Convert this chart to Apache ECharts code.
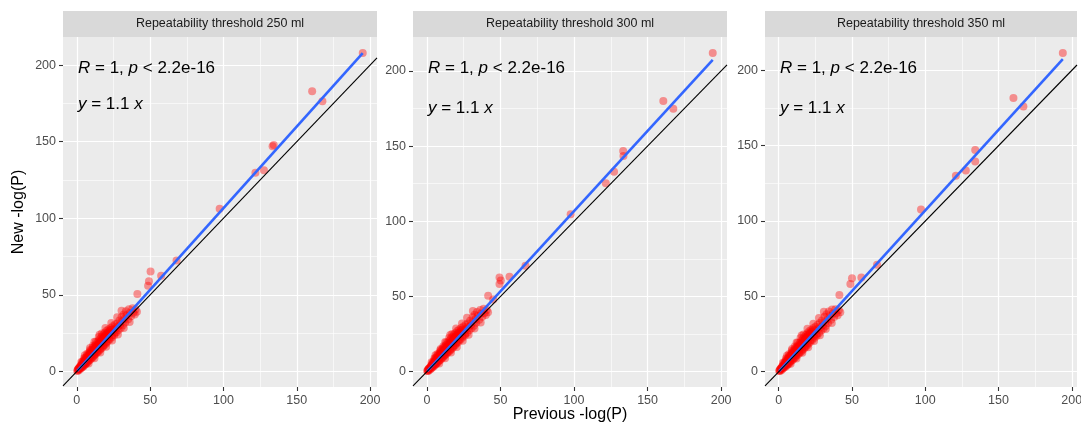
<!DOCTYPE html>
<html><head><meta charset="utf-8">
<script src="https://cdn.jsdelivr.net/npm/echarts@6/dist/echarts.min.js"></script>
<style>html,body{margin:0;padding:0;background:#fff}#c{width:1081px;height:427px}</style>
</head><body><div id="c"></div>
<script>
// ---------------- data ----------------
const panelTitles = ['Repeatability threshold 250 ml', 'Repeatability threshold 300 ml', 'Repeatability threshold 350 ml'];
const xTicks = [0, 50, 100, 150, 200];
const yTicks = [0, 50, 100, 150, 200];
const xTitle = 'Previous -log(P)';
const yTitle = 'New -log(P)';
const corText = '{i|R} = 1, {i|p} < 2.2e-16';
const eqText = '{i|y} = 1.1 {i|x}';
const fitSlopes = [1.066, 1.067, 1.070];

const points250 = [
[0.3,0.2],[0.5,0.8],[1,1.5],[1.2,0.6],[1.8,2.5],[2,1.4],[2.3,3.6],[2.7,2.1],[3,4.2],[3.2,2.4],[3.5,5.5],[3.8,3.1],[4,6.4],[4.2,4.5],[4.5,3.2],[4.8,7.2],[5,5.3],[5.2,4.1],[5.5,8.3],[5.8,6.2],[6,4.6],[6.2,9.1],[6.5,7.4],[6.8,5.5],[7,10.2],[7.2,8.1],[7.5,6.3],[7.8,11],[8,9],[8.3,7.1],[8.5,12.3],[8.8,9.8],[9,7.6],[9.3,13.1],[9.6,10.6],[10,8.4],[10.2,14.2],[10.5,11.5],[10.8,9.3],[11,15.5],[11.3,12.4],[11.6,10.2],[12,16.3],[12.3,13.5],[12.6,11],[13,17.4],[13.3,14.6],[13.6,12],[14,18.8],[14.3,15.7],[14.6,12.8],[15,20.1],[15.3,16.6],[15.6,13.9],[16,21.4],[16.4,17.9],[16.8,15],[17,22.6],[17.4,19],[17.8,16.1],[18,24],[18.4,20.3],[18.8,17.2],[19,25.2],[19.5,21.5],[20,18.3],[20.3,26.5],[20.7,22.8],[21,19.6],[21.5,27.3],[22,24],[22.4,20.8],[23,28.4],[23.4,25.2],[24,22.3],[24.5,29.5],[25,26.8],[25.5,23.6],[26,30.6],[26.5,28],[27,25.5],[27.5,31.3],[28,29.4],[28.5,27],[29,33.2],[29.5,30.5],[30,28.4],[30.5,35.5],[31,32.6],[31.5,30.1],[32,37.2],[32.5,34.4],[33,32],[33.5,39.3],[34,36.5],[35,34],[35.5,40.6],[36,38.2],[37,36],[38,41.2],[38.5,38.3],[39.5,37.2],[40,40.4],[41,39],
[0.8,1.2],[1.5,2],[2.5,2.8],[3.3,3.8],[4.3,5],[5.3,6.4],[6.3,7],[7.3,8.5],[8.3,10.3],[9.2,11.4],[10.3,12.6],[11.4,13.8],[12.5,15],[13.5,16.1],[14.5,17.3],[15.5,18.5],[16.5,19.7],[17.5,20.9],[18.5,22.1],[19.5,23.3],[21,24.9],[22.5,26.2],[24,27.4],
[5.5,10.5],[9,15.2],[12,19.3],[15.5,24],[19.5,28.4],[23.5,31.6],[27.5,35.4],[30.5,39.6],[8,5.2],[12,8.6],[16,12.4],[20,16.1],[24,20.2],[28,24.1],[32,28.3],[36,32.2],
[1.3,1.9],[2.2,2.6],[2.9,3.5],[3.7,4.4],[4.6,5.7],[5.6,6.9],[6.6,8.2],[7.6,9.3],[8.6,10.9],[9.5,12],[10.6,13.2],[11.7,14.4],[12.8,15.6],[13.8,16.8],[14.8,18],[15.8,19.2],[16.9,20.3],[17.9,21.6],[18.9,23],[20,24.1],[21.3,25.6],[22.8,27],[4,3.6],[5.9,5.1],[7.9,7.2],[9.9,9.1],[11.9,11.1],[13.9,13],[15.9,14.8],[17.9,16.9],[19.9,19],[21.9,21.2],[23.9,23.4],[25.9,25],[3,6.1],[5,8.8],[7,11.6],[9,14],[11,16.8],[13,19.3],[15,22.4],[17,24.8],
[41.3,50.5],[48.6,56],[49.2,58.8],[50.3,65.2],[57.5,62.5],[68,72.5],[97.4,106.2],[121.8,129.8],[127.6,131.4],[133.5,147],[134.3,147.8],[160.5,183],[167.5,176.5],[195,208]
];

const points300 = [
[0.2,0.5],[0.4,0.3],[0.7,1.1],[1.1,0.5],[1.6,2.2],[2.1,1.3],[2.4,3.3],[2.8,2],[3.1,4.4],[3.4,2.6],[3.6,5.2],[3.9,3.3],[4.1,6.1],[4.4,4.7],[4.6,3.4],[4.9,7.5],[5.1,5.6],[5.4,4.3],[5.6,8.6],[5.9,6.5],[6.1,4.9],[6.4,9.4],[6.6,7.2],[6.9,5.7],[7.1,10.5],[7.4,8.3],[7.7,6.5],[7.9,11.3],[8.2,9.3],[8.4,7.3],[8.7,12.6],[8.9,10.1],[9.2,7.9],[9.5,13.5],[9.8,10.9],[10.1,8.7],[10.4,14.6],[10.7,11.8],[11,9.6],[11.2,15.8],[11.5,12.7],[11.8,10.5],[12.2,16.7],[12.5,13.8],[12.8,11.3],[13.2,17.9],[13.5,14.9],[13.8,12.3],[14.2,19.1],[14.5,16],[14.8,13.1],[15.2,20.5],[15.5,17],[15.9,14.2],[16.2,21.8],[16.6,18.3],[17,15.3],[17.2,23],[17.6,19.4],[18,16.4],[18.3,24.4],[18.7,20.6],[19.1,17.5],[19.3,25.6],[19.8,21.9],[20.2,18.7],[20.6,26.9],[21,23.2],[21.4,19.9],[21.8,27.8],[22.3,24.4],[22.7,21.2],[23.3,28.9],[23.7,25.6],[24.3,22.6],[24.8,30],[25.3,27.2],[25.8,24],[26.3,31.2],[26.8,28.4],[27.3,25.8],[27.8,32],[28.3,29.8],[28.8,27.4],[29.3,33.8],[29.8,31],[30.3,28.8],[31,36.2],[31.4,33.1],[31.9,30.5],[32.4,37.8],[33,34.9],[33.5,32.4],[34,39.6],[34.5,37],[35.5,34.5],[36.2,41],[36.8,38.7],[37.6,36.4],[38.5,41.8],[39,38.8],[40,37.6],[40.6,41],[41.5,39.5],
[0.9,1.4],[1.4,1.8],[2.6,3],[3.5,4],[4.5,5.3],[5.5,6.6],[6.5,7.8],[7.5,8.9],[8.5,10.6],[9.4,11.7],[10.5,12.9],[11.6,14.1],[12.7,15.3],[13.7,16.4],[14.7,17.6],[15.7,18.8],[16.8,20],[17.8,21.2],[18.8,22.5],[19.8,23.7],[21.2,25.2],[22.8,26.5],[24.3,27.8],
[5.8,10.8],[9.3,15],[12.4,19.6],[15.8,24.3],[19.8,28.6],[23.8,31.9],[27.2,35.8],[31.2,40.2],[8.3,5.4],[12.3,8.8],[16.3,12.7],[20.3,16.4],[24.3,20.5],[28.3,24.4],[32.3,28.6],[36.5,32.6],
[1.2,1.8],[2.3,2.7],[3,3.6],[3.8,4.5],[4.7,5.8],[5.7,7],[6.7,8.3],[7.7,9.4],[8.7,11],[9.6,12.1],[10.7,13.3],[11.8,14.5],[12.9,15.7],[13.9,16.9],[14.9,18.1],[15.9,19.3],[17,20.4],[18,21.7],[19,23.1],[20.1,24.2],[21.4,25.7],[22.9,27.1],[4.1,3.7],[6,5.2],[8,7.3],[10,9.2],[12,11.2],[14,13.1],[16,14.9],[18,17],[20,19.1],[22,21.3],[24,23.5],[26,25.1],[3.1,6.2],[5.1,8.9],[7.1,11.7],[9.1,14.1],[11.1,16.9],[13.1,19.4],[15.1,22.5],[17.1,24.9],
[41.6,50.5],[45,48],[49.3,58.2],[50.2,60.5],[49.3,62.6],[56.1,63],[67,70.4],[97.7,104.7],[121.6,125.2],[127.2,133],[133.4,146.7],[133.6,143.4],[160.7,180],[167.5,174.8],[194.3,212]
];

const points350 = [
[0.3,0.4],[0.6,0.9],[0.9,0.4],[1.4,2.1],[1.9,1.2],[2.2,3.4],[2.6,1.9],[2.9,4.3],[3.3,2.5],[3.6,5.6],[3.9,3.2],[4.2,6.5],[4.4,4.8],[4.7,3.3],[5,7.4],[5.2,5.5],[5.5,4.2],[5.7,8.5],[6,6.4],[6.3,4.8],[6.5,9.3],[6.7,7.5],[7,5.6],[7.2,10.4],[7.5,8.2],[7.8,6.4],[8,11.2],[8.3,9.2],[8.6,7.2],[8.8,12.5],[9.1,10],[9.4,7.8],[9.7,13.3],[10,10.8],[10.3,8.6],[10.6,14.5],[10.9,11.7],[11.2,9.5],[11.4,15.7],[11.7,12.6],[12,10.4],[12.4,16.6],[12.7,13.7],[13,11.2],[13.4,17.8],[13.7,14.8],[14,12.2],[14.4,19],[14.7,15.9],[15,13],[15.4,20.4],[15.7,16.9],[16.1,14.1],[16.4,21.7],[16.8,18.2],[17.2,15.2],[17.4,22.9],[17.8,19.3],[18.2,16.3],[18.5,24.3],[18.9,20.5],[19.3,17.4],[19.6,25.5],[20,21.8],[20.4,18.6],[20.8,26.8],[21.2,23.1],[21.6,19.8],[22,27.7],[22.5,24.3],[22.9,21.1],[23.5,28.8],[23.9,25.5],[24.5,22.5],[25,29.9],[25.5,27.1],[26,23.9],[26.5,31.1],[27,28.3],[27.5,25.7],[28,32.4],[28.5,29.7],[29,27.3],[29.5,34],[30,30.9],[30.5,28.7],[31.2,36.5],[31.6,33],[32.1,30.4],[32.6,38.2],[33.2,34.8],[33.7,32.3],[34.2,40],[34.8,36.9],[35.7,34.4],[36.4,41.3],[37,38.6],[37.8,36.3],[38.7,41.5],[39.2,38.7],[40.2,37.5],[41,40.8],[42,39.4],
[0.8,1.3],[1.5,1.9],[2.5,2.9],[3.4,3.9],[4.4,5.2],[5.4,6.5],[6.4,7.7],[7.4,8.8],[8.4,10.5],[9.3,11.6],[10.4,12.8],[11.5,14],[12.6,15.2],[13.6,16.3],[14.6,17.5],[15.6,18.7],[16.7,19.9],[17.7,21.1],[18.7,22.4],[19.7,23.6],[21.1,25.1],[22.7,26.4],[24.2,27.7],
[5.6,10.6],[9.1,15.1],[12.2,19.4],[15.6,24.1],[19.6,28.5],[23.6,31.8],[27.4,35.6],[30.8,39.8],[8.1,5.3],[12.1,8.7],[16.1,12.5],[20.1,16.2],[24.1,20.3],[28.1,24.2],[32.1,28.4],[36.2,32.4],
[1.4,2],[2.1,2.5],[2.8,3.4],[3.6,4.3],[4.5,5.6],[5.5,6.8],[6.5,8.1],[7.5,9.2],[8.5,10.8],[9.4,11.9],[10.5,13.1],[11.6,14.3],[12.7,15.5],[13.7,16.7],[14.7,17.9],[15.7,19.1],[16.8,20.2],[17.8,21.5],[18.8,22.9],[19.9,24],[21.2,25.5],[22.7,26.9],[3.9,3.5],[5.8,5],[7.8,7.1],[9.8,9],[11.8,11],[13.8,12.9],[15.8,14.7],[17.8,16.8],[19.8,18.9],[21.8,21.1],[23.8,23.3],[25.8,24.9],[2.9,6],[4.9,8.7],[6.9,11.5],[8.9,13.9],[10.9,16.7],[12.9,19.2],[14.9,22.3],[16.9,24.7],
[41.4,50.9],[48.9,58.2],[50,62],[56.4,62.6],[67.1,71],[97.1,107.6],[120.9,130.1],[127.7,133.5],[134.1,139.6],[134.1,147.2],[160.2,181.7],[167,176],[193.9,211.6]
];

// ---------------- layout ----------------
const panels = [points250, points300, points350];
const layout = [
  {left: 63, width: 314, eqOff: 67},
  {left: 413, width: 314, eqOff: 71},
  {left: 765, width: 312, eqOff: 71}
];
const TOP = 37, HEIGHT = 350, STRIP_TOP = 11, STRIP_H = 26;
const FONT = '"Liberation Sans", Arial, Helvetica, sans-serif';

const grids = [], xAxes = [], yAxes = [], series = [], graphics = [];

panels.forEach((pts, i) => {
  const L = layout[i];
  const xs = pts.map(p => p[0]), ys = pts.map(p => p[1]);
  const xMin = Math.min(...xs), xMax = Math.max(...xs);
  const yMin = Math.min(...ys), yMax = Math.max(...ys);
  const xLo = xMin - (xMax - xMin) * 0.05, xHi = xMax + (xMax - xMin) * 0.05;
  const yLo = yMin - (yMax - yMin) * 0.05, yHi = yMax + (yMax - yMin) * 0.05;

  grids.push({left: L.left, top: TOP, width: L.width, height: HEIGHT, show: true,
    backgroundColor: '#EBEBEB', borderWidth: 0, containLabel: false, outerBoundsMode: 'none'});

  const common = {
    type: 'value', gridIndex: i,
    axisLine: {show: false, onZero: false},
    axisTick: {show: true, length: 4, lineStyle: {color: '#333333', width: 1.1}},
    splitLine: {show: true, lineStyle: {color: '#FFFFFF', width: 1.2}},
    minorTick: {show: false, splitNumber: 2},
    minorSplitLine: {show: true, lineStyle: {color: '#FFFFFF', width: 0.6}},
  };
  xAxes.push(Object.assign({}, common, {
    position: 'bottom',
    min: xLo, max: xHi,
    axisTick: Object.assign({}, common.axisTick, {customValues: xTicks}),
    axisLabel: {customValues: xTicks, color: '#4D4D4D', fontSize: 12.5, fontFamily: FONT, margin: 7}
  }));
  yAxes.push(Object.assign({}, common, {
    position: 'left',
    min: yLo, max: yHi,
    axisTick: Object.assign({}, common.axisTick, {customValues: yTicks}),
    axisLabel: {customValues: yTicks, color: '#4D4D4D', fontSize: 12.5, fontFamily: FONT, margin: 7}
  }));

  series.push({type: 'scatter', xAxisIndex: i, yAxisIndex: i, data: pts, symbolSize: 8,
    itemStyle: {color: '#FF0000', opacity: 0.4}, silent: true, z: 2});
  const s = fitSlopes[i];
  series.push({type: 'line', xAxisIndex: i, yAxisIndex: i, data: [[xMin, s * xMin], [xMax, s * xMax]],
    symbol: 'none', lineStyle: {color: '#3366FF', width: 2.6}, silent: true, z: 3});
  const a = Math.max(xLo, yLo), b = Math.min(xHi, yHi);
  series.push({type: 'line', xAxisIndex: i, yAxisIndex: i, data: [[a, a], [b, b]],
    symbol: 'none', lineStyle: {color: '#000000', width: 1.1}, silent: true, z: 4});

  // strip
  graphics.push({type: 'rect', shape: {x: L.left, y: STRIP_TOP, width: L.width, height: STRIP_H},
    style: {fill: '#D9D9D9'}, silent: true, z: 100});
  graphics.push({type: 'text', x: L.left + L.width / 2, y: STRIP_TOP + STRIP_H / 2, z: 101,
    style: {text: panelTitles[i], fill: '#1A1A1A', fontSize: 12.5, fontFamily: FONT,
      align: 'center', verticalAlign: 'middle', textAlign: 'center', textVerticalAlign: 'middle'}, silent: true});
  // annotations
  const rich = {i: {fontStyle: 'italic', fontSize: 17, fontFamily: FONT, fill: '#000'}};
  graphics.push({type: 'text', x: L.left + 15, y: TOP + 31, z: 101,
    style: {text: corText, rich: rich, fill: '#000', fontSize: 17, fontFamily: FONT,
      align: 'left', verticalAlign: 'middle', textAlign: 'left', textVerticalAlign: 'middle'}, silent: true});
  graphics.push({type: 'text', x: L.left + 15, y: TOP + L.eqOff, z: 101,
    style: {text: eqText, rich: rich, fill: '#000', fontSize: 17, fontFamily: FONT,
      align: 'left', verticalAlign: 'middle', textAlign: 'left', textVerticalAlign: 'middle'}, silent: true});
});

graphics.push({type: 'text', x: layout[1].left + layout[1].width / 2, y: 415, z: 101,
  style: {text: xTitle, fill: '#000', fontSize: 16, fontFamily: FONT,
    align: 'center', verticalAlign: 'middle', textAlign: 'center', textVerticalAlign: 'middle'}, silent: true});
graphics.push({type: 'text', x: 19, y: TOP + HEIGHT / 2, rotation: Math.PI / 2, z: 101,
  style: {text: yTitle, fill: '#000', fontSize: 16, fontFamily: FONT,
    align: 'center', verticalAlign: 'middle', textAlign: 'center', textVerticalAlign: 'middle'}, silent: true});

const chart = echarts.init(document.getElementById('c'), null, {renderer: 'canvas'});
chart.setOption({
  animation: false,
  backgroundColor: '#FFFFFF',
  grid: grids, xAxis: xAxes, yAxis: yAxes, series: series,
  graphic: graphics
});
</script>
</body></html>
